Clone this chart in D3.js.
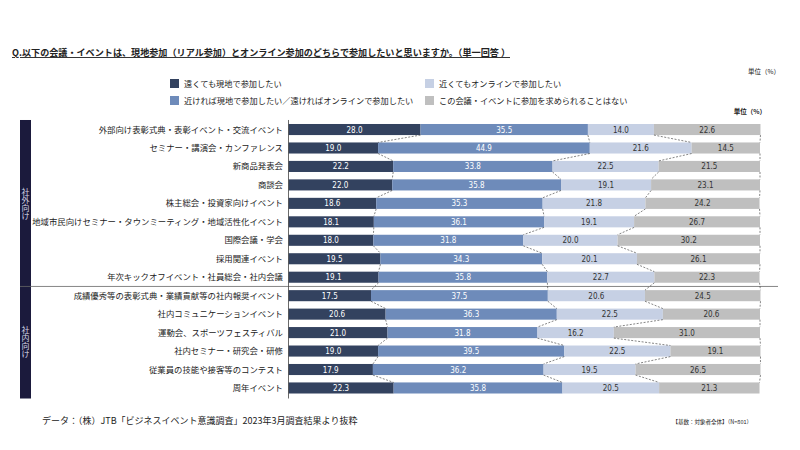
<!DOCTYPE html>
<html>
<head>
<meta charset="utf-8">
<script src="https://cdn.jsdelivr.net/npm/d3@7"></script>
<style>
  body { margin: 0; background: #fff; }
  text { font-family: "Noto Sans CJK JP", "Noto Sans", sans-serif; fill: #222; }
  .num { font-family: "DejaVu Sans Condensed", "Roboto", sans-serif; font-size: 8px; }
</style>
</head>
<body>
<script>
const w = 800;
const h = 450;

const categories = [
  "外部向け表彰式典・表彰イベント・交流イベント",
  "セミナー・講演会・カンファレンス",
  "新商品発表会",
  "商談会",
  "株主総会・投資家向けイベント",
  "地域市民向けセミナー・タウンミーティング・地域活性化イベント",
  "国際会議・学会",
  "採用関連イベント",
  "年次キックオフイベント・社員総会・社内会議",
  "成績優秀等の表彰式典・業績貢献等の社内報奨イベント",
  "社内コミュニケーションイベント",
  "運動会、スポーツフェスティバル",
  "社内セミナー・研究会・研修",
  "従業員の技能や接客等のコンテスト",
  "周年イベント"
];
const groups = [
  { name: "社外向け", first: 0, last: 8 },
  { name: "社内向け", first: 9, last: 14 }
];
const seriesNames = [
  "遠くても現地で参加したい",
  "近ければ現地で参加したい／遠ければオンラインで参加したい",
  "近くてもオンラインで参加したい",
  "この会議・イベントに参加を求められることはない"
];
const farOnsite = [28.0, 19.0, 22.2, 22.0, 18.6, 18.1, 18.0, 19.5, 19.1, 17.5, 20.6, 21.0, 19.0, 17.9, 22.3];
const nearOnsite = [35.5, 44.9, 33.8, 35.8, 35.3, 36.1, 31.8, 34.3, 35.8, 37.5, 36.3, 31.8, 39.5, 36.2, 35.8];
const online = [14.0, 21.6, 22.5, 19.1, 21.8, 19.1, 20.0, 20.1, 22.7, 20.6, 22.5, 16.2, 22.5, 19.5, 20.5];
const notAsked = [22.6, 14.5, 21.5, 23.1, 24.2, 26.7, 30.2, 26.1, 22.3, 24.5, 20.6, 31.0, 19.1, 26.5, 21.3];

const colors = ["#33425f", "#6e8bba", "#c6d0e4", "#bfbfbf"];
const textColors = ["#fff", "#fff", "#333", "#333"];

const svg = d3.select("body").append("svg").attr("width", w).attr("height", h);

const table = categories.map((c, i) => {
  const vals = [farOnsite[i], nearOnsite[i], online[i], notAsked[i]];
  let acc = 0;
  const segs = vals.map((v, k) => {
    const s = { k, v, x0: acc, x1: acc + v };
    acc += v;
    return s;
  });
  return { c, i, segs };
});

const xScale = d3.scaleLinear().domain([0, 100]).range([288.5, 760]);
const yScale = d3.scaleBand().domain(d3.range(categories.length))
  .range([120.3, 397.2]).paddingInner(0.4).paddingOuter(0.2);
const bh = yScale.bandwidth();

// title
svg.append("text")
  .attr("x", 12).attr("y", 56)
  .attr("font-size", 9.1).attr("font-weight", "bold")
  .attr("text-decoration", "underline")
  .text("Q.以下の会議・イベントは、現地参加（リアル参加）とオンライン参加のどちらで参加したいと思いますか。（単一回答 ）");

svg.append("text").attr("x", 780).attr("y", 74).attr("text-anchor", "end")
  .attr("font-size", 6.5).attr("fill", "#444").text("単位（%）");
svg.append("text").attr("x", 766).attr("y", 114).attr("text-anchor", "end")
  .attr("font-size", 6.5).attr("font-weight", "bold").text("単位（%）");

// legend
const legendPos = [[170, 84], [170, 101], [425, 84], [425, 101]];
seriesNames.forEach((n, k) => {
  const [lx, ly] = legendPos[k];
  svg.append("rect").attr("x", lx).attr("y", ly - 5).attr("width", 9).attr("height", 9)
    .attr("fill", colors[k]);
  svg.append("text").attr("x", lx + 14).attr("y", ly + 3)
    .attr("font-size", 8.2).text(n);
});

// group boxes, vertical labels
groups.forEach((g) => {
  const y0 = yScale(g.first) - 4;
  const y1 = yScale(g.last) + bh + 5;
  svg.append("rect").attr("x", 20).attr("y", y0).attr("width", 11).attr("height", y1 - y0)
    .attr("fill", "#1b1a3c");
  svg.append("text").attr("x", 25.5).attr("y", (y0 + y1) / 2)
    .attr("text-anchor", "middle").attr("font-size", 8)
    .style("writing-mode", "vertical-rl").style("text-orientation", "upright")
    .style("fill", "#d6d6e6").text(g.name);
});

// separator
const sepY = (yScale(8) + bh + yScale(9)) / 2;
svg.append("line").attr("x1", 20).attr("x2", 778).attr("y1", sepY).attr("y2", sepY)
  .attr("stroke", "#666").attr("stroke-width", 0.8);

// category labels
svg.append("g").selectAll("text").data(table).join("text")
  .attr("x", 283).attr("y", (d) => yScale(d.i) + bh / 2 + 3)
  .attr("text-anchor", "end").attr("font-size", 8.4)
  .text((d) => d.c);

// bars
const rows = svg.append("g").selectAll("g").data(table).join("g")
  .attr("transform", (d) => `translate(0, ${yScale(d.i)})`);
rows.selectAll("rect").data((d) => d.segs).join("rect")
  .attr("x", (s) => xScale(s.x0))
  .attr("width", (s) => xScale(s.x1) - xScale(s.x0))
  .attr("height", bh)
  .attr("fill", (s) => colors[s.k]);
rows.selectAll("text").data((d) => d.segs).join("text")
  .attr("class", "num")
  .attr("x", (s) => (xScale(s.x0) + xScale(s.x1)) / 2)
  .attr("y", bh / 2 + 3)
  .attr("text-anchor", "middle")
  .style("fill", (s) => textColors[s.k])
  .text((s) => s.v.toFixed(1));

// dashed connectors
const conn = svg.append("g").attr("stroke", "#333").attr("stroke-width", 0.6)
  .attr("stroke-dasharray", "2,1.5").attr("fill", "none");
for (let i = 0; i < table.length - 1; i++) {
  for (let k = 0; k < 4; k++) {
    conn.append("line")
      .attr("x1", xScale(table[i].segs[k].x1))
      .attr("y1", yScale(i) + bh)
      .attr("x2", xScale(table[i + 1].segs[k].x1))
      .attr("y2", yScale(i + 1));
  }
}

// axis line
svg.append("line").attr("x1", 288.5).attr("x2", 288.5)
  .attr("y1", yScale(0) - 4).attr("y2", yScale(14) + bh + 5)
  .attr("stroke", "#444").attr("stroke-width", 0.8);

// footer
svg.append("text").attr("x", 42).attr("y", 424).attr("font-size", 9).attr("fill", "#333")
  .text("データ：（株）JTB「ビジネスイベント意識調査」2023年3月調査結果より抜粋");
svg.append("text").attr("x", 752).attr("y", 424).attr("text-anchor", "end")
  .attr("font-size", 5.5).text("【基数：対象者全体】（N=801）");
</script>
</body>
</html>
